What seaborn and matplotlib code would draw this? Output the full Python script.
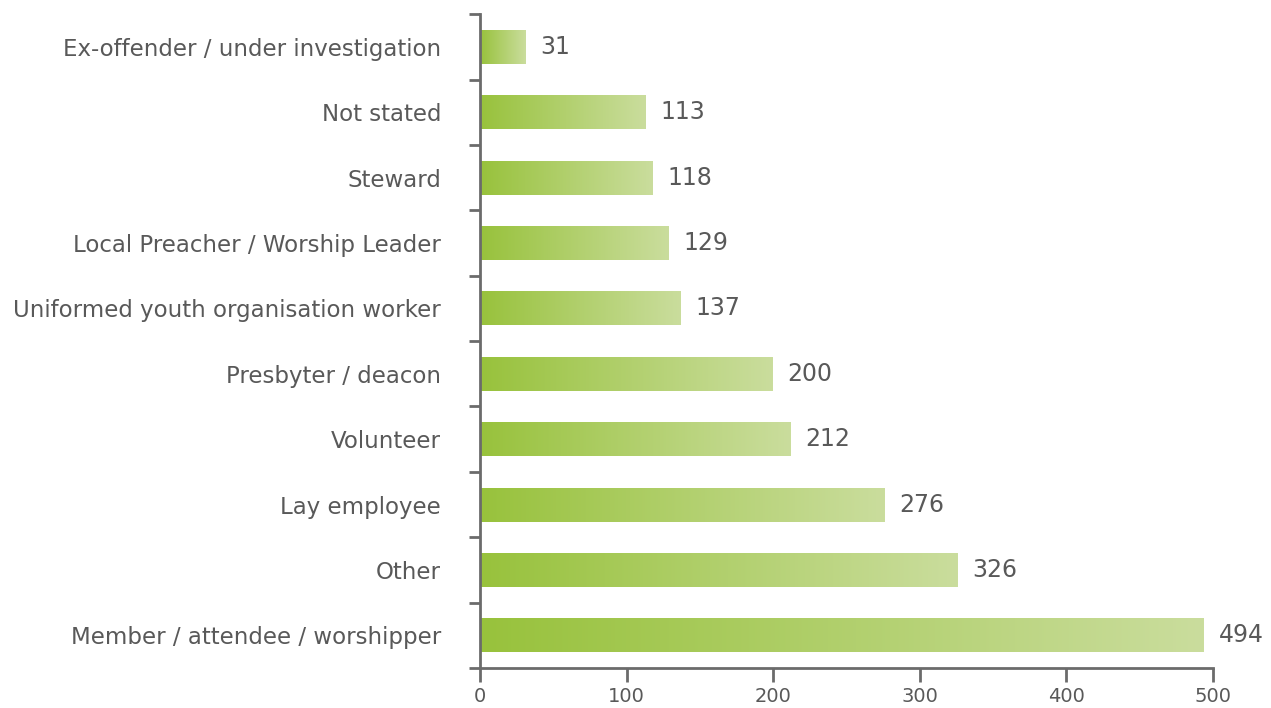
import numpy as np
import pandas as pd
import matplotlib
matplotlib.use('Agg')
import matplotlib.pyplot as plt
import seaborn as sns
from matplotlib.colors import LinearSegmentedColormap
from matplotlib.ticker import FixedLocator

#Data
roles = ['Ex-offender / under investigation', 'Not stated', 'Steward',
         'Local Preacher / Worship Leader', 'Uniformed youth organisation worker',
         'Presbyter / deacon', 'Volunteer', 'Lay employee', 'Other',
         'Member / attendee / worshipper']
counts = [31, 113, 118, 129, 137, 200, 212, 276, 326, 494]
x_ticks = [0, 100, 200, 300, 400, 500]

df = pd.DataFrame({'Role': roles, 'Count': counts})

sns.set_style('white')
plt.rcParams['font.family'] = ['DejaVu Sans']

grey = '#595959'
axis_grey = '#6b6b6b'

fig = plt.figure(figsize=(12.71, 7.08), dpi=100)
ax = fig.add_axes([0.3777, 0.0565, 0.954 - 0.3777, 0.9235])

sns.barplot(data=df, x='Count', y='Role', orient='h', color='#9bc33f',
            width=0.52, ax=ax)

#Gradient fill for each bar
cmap = LinearSegmentedColormap.from_list('grn', ['#98c23c', '#cadd9d'])
grad = np.linspace(0, 1, 256).reshape(1, -1)
for bar in ax.patches:
    x0, y0 = bar.get_x(), bar.get_y()
    w, h = bar.get_width(), bar.get_height()
    bar.set_facecolor('none')
    bar.set_edgecolor('none')
    im = ax.imshow(grad, cmap=cmap, aspect='auto',
                   extent=[x0, x0 + w, y0 + h, y0], zorder=2)
    im.set_clip_path(bar)
    ax.text(x0 + w + 10, y0 + h / 2, str(int(w)), va='center', ha='left',
            fontsize=17, color=grey)

ax.set_xlim(0, 500)
ax.set_ylim(len(roles) - 0.5, -0.5)
ax.set_xticks(x_ticks)
ax.set_xticklabels([str(t) for t in x_ticks])
ax.set_xlabel('')
ax.set_ylabel('')

#Spines and ticks
for s in ['top', 'right']:
    ax.spines[s].set_visible(False)
for s in ['left', 'bottom']:
    ax.spines[s].set_color(axis_grey)
    ax.spines[s].set_linewidth(2)

ax.yaxis.set_minor_locator(FixedLocator(np.arange(-0.5, len(roles), 1)))
ax.tick_params(axis='y', which='major', length=0, pad=28, labelsize=16.5,
               labelcolor=grey)
ax.tick_params(axis='y', which='minor', left=True, length=8, width=2,
               color=axis_grey, direction='out')
ax.tick_params(axis='x', which='major', bottom=True, length=10, width=2,
               color=axis_grey, direction='out', labelsize=14,
               labelcolor=grey, pad=4)

fig.savefig('out.png', dpi=100)
